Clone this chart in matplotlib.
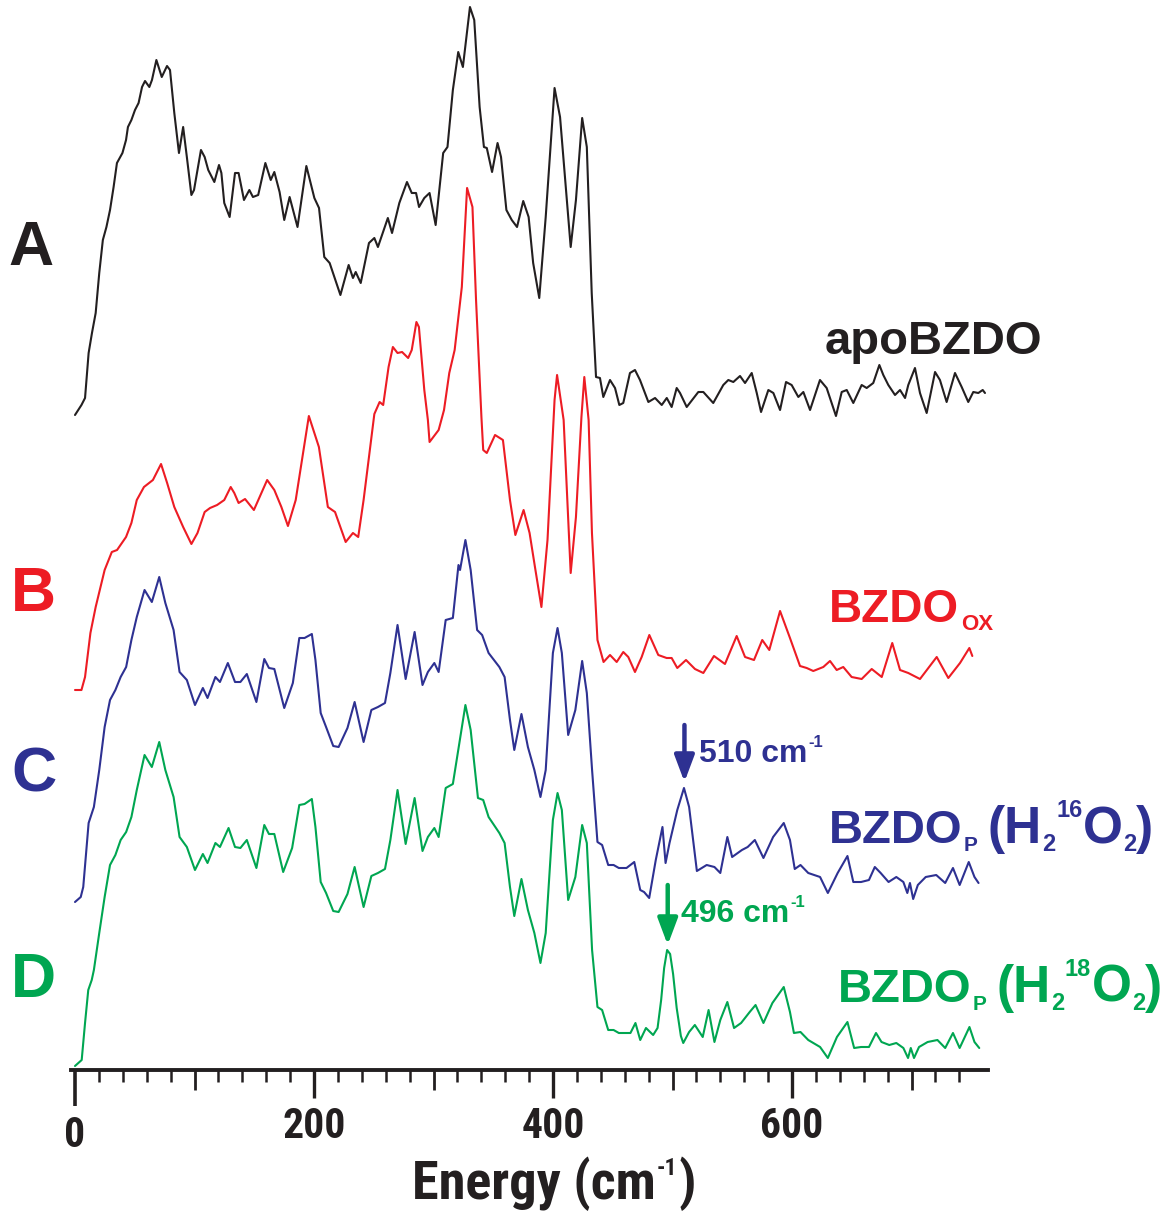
import matplotlib
matplotlib.use('Agg')
import matplotlib.pyplot as plt
from matplotlib import font_manager as fm
import numpy as np

# ---------------- data (energy in cm-1, intensity in arbitrary units) ----------------
a_x = [0, 5.4, 8.4, 11.4, 14.2, 17.3, 20.3, 23.3, 26.3, 29.3,
       32.3, 35.1, 39.7, 42.7, 44.3, 47.2, 50.2, 53.2, 56.1, 58.6,
       62.2, 64.4, 68.1, 72.6, 77, 79.5, 83.1, 87, 90.5, 93.6,
       97.4, 99.6, 105.4, 108.5, 111.5, 116.6, 120.5, 122.5, 124.9, 129.4,
       133.9, 136.9, 141.4, 145.9, 148.9, 153.3, 159.3, 163.8, 166.8, 171.2,
       175.1, 179.6, 186.2, 193.6, 200.3, 204.2, 208.6, 213.1, 222.1, 229,
       232.6, 234.9, 239.1, 246, 250.5, 253.5, 261.8, 265.3, 271.4, 277.8,
       281.8, 285.4, 287.9, 292.3, 296.7, 301.8, 308.1, 311.7, 316.2, 320.7,
       324.6, 330.5, 334.1, 338.6, 342.2, 344.6, 349, 353.6, 356.5, 361,
       365.5, 369.9, 375.1, 379.6, 383.4, 388.5, 393.9, 401.3, 405.9, 414.8,
       419.2, 424.4, 428.3, 432.4, 436, 439.3, 442.1, 447.7, 451.9, 455.5,
       458.8, 464.4, 468.6, 472.8, 479.8, 485.4, 491, 495.2, 499.3, 503.5,
       506.3, 511.9, 521.6, 525.8, 534.1, 542.5, 546.7, 550.9, 556.5, 560.7,
       566.3, 570.5, 574.1, 580.2, 584.4, 590, 595, 599.7, 605.3, 609.5,
       615.1, 623.4, 629, 636.8, 641.6, 645.8, 651.3, 658.3, 662.5, 668,
       673.1, 676.4, 680.6, 686.2, 690.4, 694.6, 697.3, 702.9, 707.1, 712.7,
       719.7, 723.8, 729.4, 736.4, 742, 747.5, 751.7, 755.9, 759.6, 761.5]
a_y = [-20, -10, -3, 42, 62, 82, 122, 155, 168, 185,
       208, 232, 242, 255, 268, 275, 285, 292, 308, 314,
       308, 315, 335, 318, 329, 325, 282, 242, 268, 238,
       200, 205, 245, 238, 225, 213, 230, 222, 192, 178,
       222, 222, 195, 205, 198, 200, 232, 215, 223, 203,
       175, 198, 168, 229, 197, 187, 138, 132, 100, 130,
       117, 123, 112, 152, 157, 148, 177, 162, 192, 213,
       202, 202, 188, 197, 202, 170, 242, 248, 305, 343,
       328, 388, 375, 288, 248, 247, 223, 252, 238, 185,
       175, 168, 194, 178, 132, 97, 178, 307, 278, 148,
       195, 277, 248, 102, 18, 17, -2, 15, 7, -10,
       -8, 22, 25, 15, -7, -3, -10, -3, -12, 7,
       2, -12, 3, 3, -8, 10, 15, 13, 19, 12,
       22, 2, -17, 5, 2, -15, 13, 10, -2, 3,
       -15, 15, 7, -21, 3, 5, -8, 10, 7, 12,
       30, 20, 10, 0, 5, -3, 10, 27, 2, -18,
       23, 15, -7, 22, 8, -7, 3, 2, 5, 2]

b_pts = [(0, -25), (5.4, -25), (8.4, -12), (12.9, 32), (17.3, 58), (24.8, 95), (30.8, 113), (35.2, 115), (42.7, 128), (47.2, 142),
         (51.7, 165), (57.7, 178), (65.2, 185), (72, 201), (77.1, 182), (83.1, 158), (90.5, 138), (97.4, 121), (102.5, 132), (108.5, 153),
         (113, 157), (118.9, 160), (124.9, 165), (130.3, 178), (133.3, 172), (136.9, 162), (142.3, 166), (149.7, 155), (160.8, 185), (166.8, 175),
         (172.7, 158), (178.2, 139), (184.7, 165), (195.7, 249), (204.1, 218), (211.6, 158), (217.6, 153), (226.5, 123), (232.6, 132), (237, 128),
         (241.5, 165), (250.5, 251), (254.9, 263), (257.9, 260), (262.4, 298), (266, 318), (269.9, 312), (273.7, 313), (278.8, 307), (281.8, 315),
         (285.7, 343), (287.8, 338), (292.3, 275), (295.3, 245), (296.7, 223), (304.3, 235), (308.8, 255), (313.2, 292), (317.7, 315), (323.7, 378),
         (328.1, 477), (332.6, 458), (335.6, 365), (340.1, 248), (341.6, 215), (344.6, 212), (351.5, 230), (358.1, 225), (364, 165), (368.5, 130),
         (375.4, 155), (380.4, 132), (384.9, 98), (390.3, 58), (395.4, 125), (401.3, 265), (403.4, 290), (408.9, 245), (414.8, 92), (419.2, 148),
         (423.8, 248), (426.2, 288), (429.8, 245), (432.6, 132), (437.2, 25), (442.3, 3), (447.7, 10), (453.3, 3), (458.8, 13), (463, 8),
         (468.6, -7), (474.2, 8), (480.6, 30), (488.1, 10), (495.1, 7), (499.3, 7), (504, -3), (511.3, 5), (518.8, -4), (525.8, -8),
         (534.7, 9), (543.9, 1), (553.7, 29), (560.7, 8), (568.2, 5), (575.1, 25), (581, 15), (590, 54), (598.3, 27), (606.7, -1),
         (612.3, -3), (617.8, -6), (626.2, -2), (631.8, 4), (637.4, -5), (642.9, -2), (649.9, -12), (658.3, -14), (666.7, -4), (675.1, -12),
         (683.9, 22), (690.4, -5), (697.3, -8), (707.1, -14), (721.1, 8), (730.8, -13), (740.6, 2), (748.4, 17), (750.9, 9)]

c_pts = [(0, -27), (4.8, -22), (6.9, -12), (11.4, 52), (15.8, 68), (20.3, 105), (24.8, 148), (29.3, 175), (33.8, 185), (38.2, 198),
         (42.8, 208), (47.2, 235), (51.7, 258), (58.2, 285), (64.3, 273), (70.5, 298), (75.6, 272), (82.5, 245), (87.5, 203), (93.6, 195),
         (100.4, 170), (107, 187), (110.9, 177), (117.5, 198), (121.3, 193), (127.9, 212), (133.9, 193), (138.4, 193), (143.8, 201), (151.8, 173),
         (158.4, 216), (162.3, 207), (166.8, 206), (175.1, 167), (182.3, 192), (187.7, 237), (192.1, 237), (198.2, 241), (201.2, 215), (205.6, 162),
         (210.1, 148), (216.1, 129), (220.6, 128), (228, 147), (234, 173), (241.5, 133), (248, 165), (253.5, 168), (259.4, 172), (263.9, 202),
         (269.9, 250), (276.7, 196), (284.2, 243), (290.8, 190), (295.3, 203), (300.7, 212), (304.3, 203), (310.2, 255), (316.2, 257), (320.9, 310),
         (322.2, 305), (326.7, 335), (331.1, 305), (336.5, 245), (340.7, 240), (346.1, 222), (355.1, 208), (359.5, 198), (364, 155),
         (367.6, 125), (373.6, 161), (379, 128), (384.4, 105), (389.5, 78), (393.9, 105), (399.9, 222), (403.8, 247), (407.4, 222), (412.7, 140),
         (418.7, 165), (424.4, 214), (428.3, 182), (432.7, 105), (437.2, 33), (441.1, 30), (446.2, 10), (450.7, 10), (455.1, 7), (461.5, 7),
         (468, 13), (473, -15), (476.2, -17), (480.5, -23), (486, 15), (491.6, 48), (494.2, 12), (497.5, 32), (504, 65), (509.6, 87),
         (513.9, 68), (520.4, 4), (528.6, 10), (535.1, 8), (540, 2), (545.9, 38), (549.9, 18), (558.1, 25), (562.9, 28), (568.9, 35),
         (576.1, 17), (584.2, 38), (593.1, 52), (598.3, 35), (602.3, 6), (607.1, 10), (613.6, 2), (623.5, -2), (630, -18), (638.2, 2),
         (646.4, 19), (651.3, -7), (657.8, -7), (664.4, -5), (669.3, 8), (674.2, 2), (680.8, -7), (687.3, -2), (693.2, -7), (696.5, -18),
         (698.7, -8), (701.4, -24), (705.3, -10), (711.9, -2), (720.7, 0), (728.2, -8), (734.7, 7), (740.3, -10), (747.9, 13), (752.7, -2),
         (756.1, -8)]

d_pts = [(0, -26), (5.6, -20), (8.4, 17), (11.1, 50), (14, 60), (15.8, 70), (20.3, 107), (24.8, 143), (29.3, 175), (33.8, 185),
         (38.2, 200), (42.8, 208), (47.2, 223), (51.7, 250), (58.2, 285), (64.3, 273), (70.5, 298), (75.6, 270), (82.5, 243), (87.5, 203),
         (93.6, 193), (100.4, 170), (107, 186), (110.9, 177), (117.5, 197), (121.3, 193), (128.5, 212), (133.9, 193), (138.4, 192), (143.8, 200),
         (151.8, 172), (158.4, 215), (162.3, 206), (166.8, 206), (174.2, 168), (181.7, 192), (187.7, 235), (192.1, 236), (198.2, 241), (201.2, 213),
         (205.6, 158), (210.1, 147), (216.1, 129), (220.6, 128), (228, 146), (234, 173), (241.5, 133), (248, 164), (253.5, 167), (259.4, 171),
         (263.9, 200), (269.9, 250), (276.7, 196), (284.2, 242), (290.8, 189), (295.3, 203), (300.7, 212), (304.3, 203), (310.2, 252), (316.2, 256),
         (326.7, 335), (331.1, 310), (337.2, 242), (341.6, 240), (346.1, 223), (355.1, 207), (359.5, 197), (364, 153), (367.6, 124), (373.6, 161),
         (379, 130), (384.4, 107), (389.5, 77), (393.9, 107), (399.9, 220), (403.8, 247), (407.4, 230), (412.7, 140), (418.7, 163), (424.4, 215),
         (428.3, 197), (432.7, 90), (437.2, 33), (441.1, 30), (446.2, 10), (450.7, 10), (455.1, 7), (464.8, 7), (469, 17), (473, 0),
         (477.8, 12), (483.8, 5), (487.5, 12), (490.5, 40), (493, 72), (495.5, 90), (498, 86), (500.5, 66), (503.5, 32), (507, 4),
         (509, -3), (513.9, 8), (518.7, 15),
         (525.3, 3), (530.2, 30), (535.1, -2), (540, 20), (545.9, 38), (551.5, 12), (557.4, 17), (564.6, 28), (569.5, 35), (576.1, 17),
         (583.6, 37), (593.1, 53), (598.3, 28), (601.6, 7), (607.1, 8), (613.6, 0), (623.5, -7), (630, -18), (637.6, 3), (646.4, 18),
         (652, -8), (657.8, -7), (664.4, -7), (670.3, 7), (674.9, -2), (681.4, -5), (687.3, -3), (693.2, -8), (697.1, -18), (699.4, -8),
         (702.1, -18), (706.3, -7), (713.5, -2), (721.7, 0), (728.2, -8), (734.7, 7), (740.3, -8), (748.5, 13), (752.7, -2), (756.7, -8)]

panel_letters = ['A', 'B', 'C', 'D']
peak_marks = [510, 496]          # cm-1, marked bands in C and D
major_ticks = [0, 200, 400, 600]
major_labels = ['0', '200', '400', '600']

# ---------------- style ----------------
K = '#231f20'
RED = '#ed1c24'
BLUE = '#2e3192'
GREEN = '#00a651'
SANS = ['Liberation Sans', 'DejaVu Sans']


def has_font(name):
    try:
        fm.findfont(fm.FontProperties(family=name, weight='bold'), fallback_to_default=False)
        return True
    except Exception:
        return False


narrow_name = None
for cand in ['Liberation Sans Narrow', 'Roboto Condensed', 'Arial Narrow']:
    if has_font(cand):
        narrow_name = cand
        break
if narrow_name:
    NARROW = [narrow_name, 'Liberation Sans']
    TICK_FS, TITLE_FS, TITLE_SUP = 30, 39, 17
else:
    NARROW = SANS
    TICK_FS, TITLE_FS, TITLE_SUP = 25, 34, 15

W, H = 1173, 1216
AX_BOTTOM_PX = 1070
X0_PX, PX_PER_CM = 75, 1.195

fig = plt.figure(figsize=(W / 100, H / 100), dpi=100)
ax = fig.add_axes([0, (H - AX_BOTTOM_PX) / H, 1, AX_BOTTOM_PX / H])
ax.set_xlim(-X0_PX / PX_PER_CM, (W - X0_PX) / PX_PER_CM)
ax.set_ylim(0, AX_BOTTOM_PX)
ax.patch.set_alpha(0)

offsets = [675, 405, 195, 30]
colors = [K, RED, BLUE, GREEN]
series = [(a_x, a_y),
          tuple(zip(*b_pts)),
          tuple(zip(*c_pts)),
          tuple(zip(*d_pts))]
for (xs, ys), off, col in zip(series, offsets, colors):
    ax.plot(np.array(xs), np.array(ys) + off, color=col, lw=1.5,
            solid_joinstyle='round', solid_capstyle='round', antialiased=True)

# axes cosmetics
for s in ['left', 'right', 'top']:
    ax.spines[s].set_visible(False)
ax.spines['bottom'].set_linewidth(2.8)
ax.spines['bottom'].set_color(K)
ax.spines['bottom'].set_bounds(-3, 764)
ax.set_yticks([])

ax.set_xticks(major_ticks[1:])
ax.set_xticklabels(major_labels[1:])
minor = [v for v in range(20, 760, 20) if v % 100 != 0]
ax.set_xticks(minor, minor=True)
ax.tick_params(axis='x', which='major', direction='out', length=20, width=2.4,
               color=K, pad=6, labelsize=TICK_FS, labelcolor=K)
ax.tick_params(axis='x', which='minor', direction='out', length=8.5, width=1.8, color=K)
for lab in ax.get_xticklabels():
    lab.set_family(NARROW)
    lab.set_fontweight('bold')

sec_mid = ax.secondary_xaxis('bottom')
sec_mid.set_xticks([100, 300, 500, 700])
sec_mid.set_xticklabels([])
sec_mid.spines['bottom'].set_visible(False)
sec_mid.tick_params(axis='x', direction='out', length=14.5, width=2.0, color=K)
sec_mid.tick_params(axis='x', which='minor', length=0)

sec_zero = ax.secondary_xaxis('bottom')
sec_zero.set_xticks(major_ticks[:1])
sec_zero.set_xticklabels(major_labels[:1])
sec_zero.spines['bottom'].set_visible(False)
sec_zero.tick_params(axis='x', direction='out', length=26, width=2.6, color=K,
                     pad=6.5, labelsize=TICK_FS, labelcolor=K)
sec_zero.tick_params(axis='x', which='minor', length=0)
for lab in sec_zero.get_xticklabels():
    lab.set_family(NARROW)
    lab.set_fontweight('bold')

renderer = fig.canvas.get_renderer()


def seq(x0, base, parts, color):
    """Draw text pieces one after another; base is baseline in pixels from top."""
    x = x0
    for s, size, dy, fam, gap in parts:
        t = fig.text(x / W, 1 - (base + dy) / H, s, fontsize=size, fontweight='bold',
                     family=fam, color=color, va='baseline', ha='left')
        bb = t.get_window_extent(renderer)
        x = bb.x1 + gap


# panel letters
letter_pos = [(8, 265), (11, 611), (11, 791), (11, 997)]
for letter, (lx, lb), col in zip(panel_letters, letter_pos, colors):
    seq(lx, lb, [(letter, 45, 0, SANS, 0)], col)

# trace labels
seq(825, 354, [('apoBZDO', 34, 0, SANS, 0)], K)
seq(829, 622, [('BZDO', 33, 0, SANS, 2), ('OX', 16, 8, SANS, 0)], RED)
seq(829, 843, [('BZDO', 34, 0, SANS, 1), ('P', 15, 8, SANS, 10), ('(H', 37, 0, SANS, 0),
               ('2', 17, 8, SANS, 1), ('16', 17, -26, SANS, 1), ('O', 37, 0, SANS, 0),
               ('2', 17, 8, SANS, 0), (')', 37, 0, SANS, 0)], BLUE)
seq(838, 1002, [('BZDO', 34, 0, SANS, 1), ('P', 15, 8, SANS, 10), ('(H', 37, 0, SANS, 0),
                ('2', 17, 8, SANS, 1), ('18', 17, -26, SANS, 1), ('O', 37, 0, SANS, 0),
                ('2', 17, 8, SANS, 0), (')', 37, 0, SANS, 0)], GREEN)

# peak annotations
seq(699, 762, [('510 cm', 23, 0, SANS, 1), ('-1', 12, -15, SANS, 0)], BLUE)
seq(681, 922, [('496 cm', 23, 0, SANS, 1), ('-1', 12, -15, SANS, 0)], GREEN)
arrow_spans = [(345, 288), (185, 125)]
for xm, (y_tail, y_tip), col in zip(peak_marks, arrow_spans, [BLUE, GREEN]):
    ax.annotate('', xy=(xm, y_tip), xytext=(xm, y_tail),
                arrowprops=dict(arrowstyle='-|>,head_length=0.8,head_width=0.3',
                                lw=3.2, color=col, shrinkA=0, shrinkB=0,
                                mutation_scale=20))

# axis title
seq(412, 1199, [('Energy (cm', TITLE_FS, 0, NARROW, 1), ('-1', TITLE_SUP, -24, NARROW, 1),
                (')', TITLE_FS, 0, NARROW, 0)], K)

fig.savefig('out.png', dpi=100)
